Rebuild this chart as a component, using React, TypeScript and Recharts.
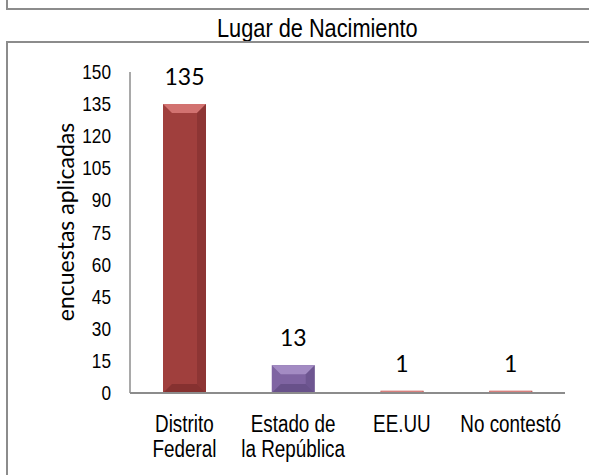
import React from 'react';
import { BarChart, Bar, XAxis, YAxis, Cell, LabelList } from 'recharts';

const categories = ['Distrito Federal', 'Estado de la República', 'EE.UU', 'No contestó'];
const tickLines = [['Distrito', 'Federal'], ['Estado de', 'la República'], ['EE.UU'], ['No contestó']];
const encuestas = [135, 13, 1, 1];
const yTicks = [0, 15, 30, 45, 60, 75, 90, 105, 120, 135, 150];

const fills = ['#A03F3D', '#7F64A2', '#C0504D', '#C0504D'];
const lights = ['#D27270', '#A38BC3', '#D9807D', '#D9807D'];
const darks = ['#7A2C2B', '#5E4880', '#8F3835', '#8F3835'];

const data = categories.map((name, i) => ({ name, value: encuestas[i] }));

const ARIAL = '"Liberation Sans", Arial, sans-serif';
const CALIBRI = 'Lato, "Open Sans", sans-serif';
const NARROW_X = 0.82;

const BevelBar = (props: any) => {
  const { x, y, width, height, index } = props;
  if (!height || height <= 0) return null;
  const b = Math.min(9, height / 2, width / 2);
  const r = x + width;
  const btm = y + height;
  return (
    <g>
      <rect x={x} y={y} width={width} height={height} fill={fills[index]} />
      <polygon points={`${x},${y} ${r},${y} ${r - b},${y + b} ${x + b},${y + b}`} fill={lights[index]} />
      <polygon points={`${r},${y} ${r - b},${y + b} ${r - b},${btm - b} ${r},${btm}`} fill={darks[index]} opacity={0.5} />
      <polygon points={`${x},${btm} ${x + b},${btm - b} ${r - b},${btm - b} ${r},${btm}`} fill={darks[index]} opacity={0.7} />
    </g>
  );
};

const CategoryTick = (props: any) => {
  const { x, y, index } = props;
  const lines = tickLines[index] || [];
  return (
    <g transform={`translate(${x},${y}) scale(${NARROW_X},1)`}>
      <text x={0} y={0} textAnchor="middle" fontFamily={ARIAL} fontSize={23} fill="#000">
        {lines.map((l, i) => (
          <tspan key={i} x={0} dy={i === 0 ? 31 : 25}>{l}</tspan>
        ))}
      </text>
    </g>
  );
};

const ValueTick = (props: any) => {
  const { x, y, payload } = props;
  return (
    <g transform={`translate(${x},${y}) scale(${NARROW_X},1)`}>
      <text x={0} y={0} dy={7} textAnchor="end" fontFamily={ARIAL} fontSize={21} fill="#000">
        {payload.value}
      </text>
    </g>
  );
};

const AxisTitle = () => (
  <text
    x={65}
    y={222}
    transform="rotate(-90, 65, 222)"
    textAnchor="middle"
    dominantBaseline="central"
    fontFamily={CALIBRI}
    fontSize={23}
    fill="#000"
  >
    encuestas aplicadas
  </text>
);

export default function App() {
  return (
    <div style={{ position: 'fixed', left: 0, top: 0, width: 589, height: 475, background: '#fff', overflow: 'hidden' }}>
      <div style={{ position: 'absolute', left: 6, top: -20, width: 620, height: 26, border: '2px solid #8c8c8c' }} />
      <div style={{ position: 'absolute', left: 117, top: 14, width: 401, textAlign: 'center' }}>
        <span
          style={{
            display: 'inline-block', whiteSpace: 'nowrap', fontFamily: ARIAL, fontSize: 25,
            lineHeight: '28px', color: '#000', transform: 'scaleX(0.87)',
          }}
        >
          Lugar de Nacimiento
        </span>
      </div>
      <div style={{ position: 'absolute', left: 6, top: 41, width: 620, height: 460, border: '2px solid #8c8c8c' }} />
      <div style={{ position: 'absolute', left: 0, top: 0 }}>
        <BarChart width={589} height={475} data={data} margin={{ top: 72, right: 24, bottom: 0, left: 0 }}>
          <XAxis
            dataKey="name"
            height={82}
            axisLine={{ stroke: '#8c8c8c', strokeWidth: 2 }}
            tickLine={false}
            interval={0}
            tick={<CategoryTick />}
          />
          <YAxis
            width={130}
            domain={[0, 150]}
            ticks={yTicks}
            interval={0}
            axisLine={{ stroke: '#8c8c8c', strokeWidth: 1.5 }}
            tickLine={false}
            tickSize={0}
            tickMargin={19}
            tick={<ValueTick />}
            label={<AxisTitle />}
          />
          <Bar dataKey="value" barSize={43} isAnimationActive={false} shape={<BevelBar />}>
            {data.map((d, i) => (
              <Cell key={d.name} fill={fills[i]} />
            ))}
            <LabelList
              dataKey="value"
              position="top"
              offset={19}
              style={{ fontFamily: CALIBRI, fontSize: 23, fill: '#000' }}
            />
          </Bar>
        </BarChart>
      </div>
    </div>
  );
}
